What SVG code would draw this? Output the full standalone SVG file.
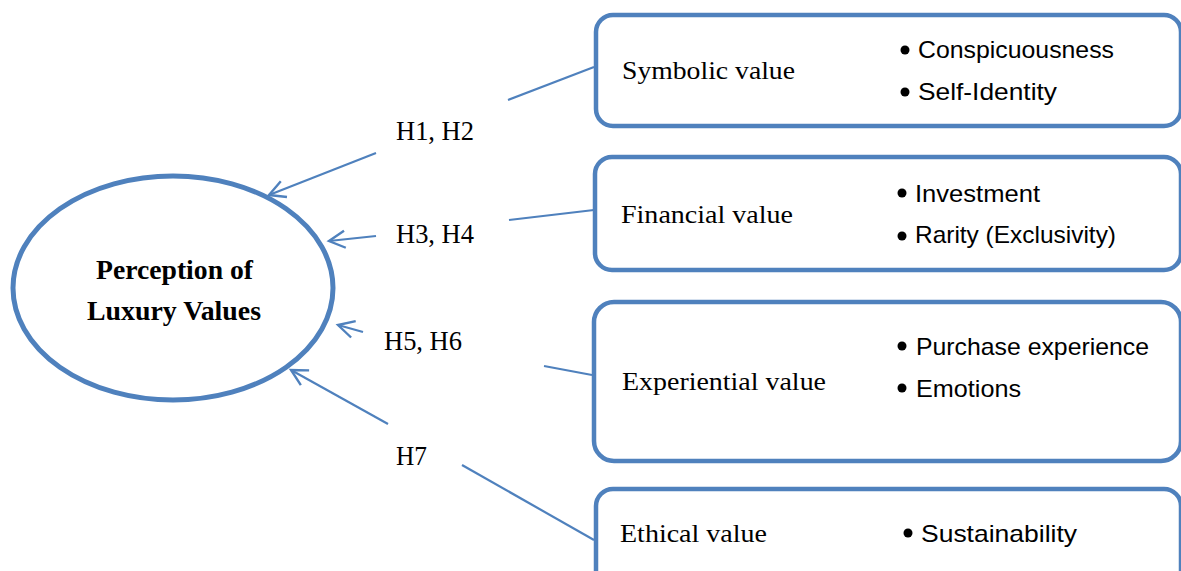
<svg xmlns="http://www.w3.org/2000/svg" width="1181" height="571" viewBox="0 0 1181 571">
<style>
.box{fill:#fff;stroke:#4F81BD;stroke-width:4.5}
.ln{stroke:#4F81BD;stroke-width:2.2;fill:none}
.serif{font-family:"Liberation Serif","Times New Roman",serif;fill:#000}
.hl{font-size:26.5px}
.lbl{font-size:26px}
.sans{font-family:"Liberation Sans",Arial,sans-serif;font-size:24px;fill:#000}
.dot{fill:#000}
</style>
<defs>
<marker id="arr" markerUnits="userSpaceOnUse" markerWidth="40" markerHeight="40" viewBox="-20 -20 40 40" refX="0" refY="0" orient="auto">
<path d="M -16,-8.5 L 0,0 L -16,8.5" fill="none" stroke="#4F81BD" stroke-width="2.4"/>
</marker>
</defs>
<g id="connectors">
<line class="ln" x1="508" y1="100" x2="594" y2="67"/>
<line class="ln" x1="509" y1="220" x2="594" y2="210"/>
<line class="ln" x1="544" y1="366" x2="592" y2="375"/>
<line class="ln" x1="462" y1="465" x2="594" y2="540"/>
<line class="ln" x1="376" y1="153" x2="269" y2="195" marker-end="url(#arr)"/>
<line class="ln" x1="376" y1="236" x2="329" y2="241" marker-end="url(#arr)"/>
<line class="ln" x1="363" y1="332" x2="338" y2="325" marker-end="url(#arr)"/>
<line class="ln" x1="388" y1="424" x2="291" y2="370" marker-end="url(#arr)"/>
</g>
<g id="hlabels">
<text class="serif hl" x="396" y="140" textLength="78" lengthAdjust="spacingAndGlyphs">H1, H2</text>
<text class="serif hl" x="396" y="243" textLength="78" lengthAdjust="spacingAndGlyphs">H3, H4</text>
<text class="serif hl" x="384" y="350" textLength="78" lengthAdjust="spacingAndGlyphs">H5, H6</text>
<text class="serif hl" x="396" y="465" textLength="31" lengthAdjust="spacingAndGlyphs">H7</text>
</g>
<g id="perception">
<ellipse cx="173" cy="288" rx="160" ry="112" fill="#fff" stroke="#4F81BD" stroke-width="5"/>
<text class="serif" font-weight="bold" font-size="27.5" x="96" y="279" textLength="157" lengthAdjust="spacingAndGlyphs">Perception of</text>
<text class="serif" font-weight="bold" font-size="27.5" x="87" y="320" textLength="174" lengthAdjust="spacingAndGlyphs">Luxury Values</text>
</g>
<g id="symbolic">
<rect class="box" x="596" y="15" width="585" height="111" rx="17"/>
<text class="serif lbl" x="622" y="79" textLength="173" lengthAdjust="spacingAndGlyphs">Symbolic value</text>
<circle class="dot" cx="905" cy="50" r="4.5"/>
<text class="sans" x="918" y="58" textLength="196" lengthAdjust="spacingAndGlyphs">Conspicuousness</text>
<circle class="dot" cx="905" cy="92" r="4.5"/>
<text class="sans" x="918" y="100" textLength="139" lengthAdjust="spacingAndGlyphs">Self-Identity</text>
</g>
<g id="financial">
<rect class="box" x="595" y="157" width="586" height="113" rx="17"/>
<text class="serif lbl" x="621" y="223" textLength="172" lengthAdjust="spacingAndGlyphs">Financial value</text>
<circle class="dot" cx="902" cy="193" r="4.5"/>
<text class="sans" x="915" y="202" textLength="125" lengthAdjust="spacingAndGlyphs">Investment</text>
<circle class="dot" cx="902" cy="236" r="4.5"/>
<text class="sans" x="915" y="243" textLength="201" lengthAdjust="spacingAndGlyphs">Rarity (Exclusivity)</text>
</g>
<g id="experiential">
<rect class="box" x="594" y="302" width="587" height="159" rx="20"/>
<text class="serif lbl" x="622" y="390" textLength="204" lengthAdjust="spacingAndGlyphs">Experiential value</text>
<circle class="dot" cx="902" cy="346" r="4.5"/>
<text class="sans" x="916" y="355" textLength="233" lengthAdjust="spacingAndGlyphs">Purchase experience</text>
<circle class="dot" cx="902" cy="388" r="4.5"/>
<text class="sans" x="916" y="397" textLength="105" lengthAdjust="spacingAndGlyphs">Emotions</text>
</g>
<g id="ethical">
<rect class="box" x="596" y="489" width="585" height="120" rx="17"/>
<text class="serif lbl" x="620" y="542" textLength="147" lengthAdjust="spacingAndGlyphs">Ethical value</text>
<circle class="dot" cx="908" cy="533" r="4.5"/>
<text class="sans" x="921" y="542" textLength="156" lengthAdjust="spacingAndGlyphs">Sustainability</text>
</g>
</svg>
